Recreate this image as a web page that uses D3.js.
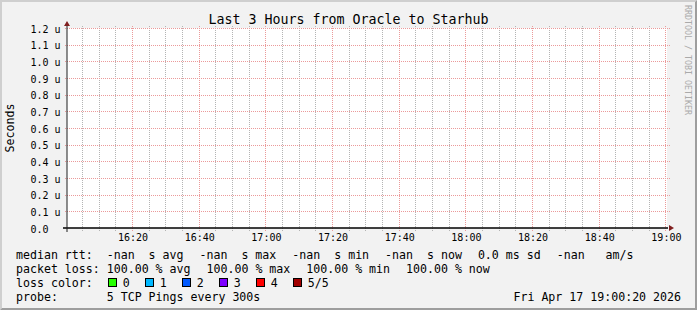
<!DOCTYPE html>
<html><head><meta charset="utf-8">
<script src="https://cdn.jsdelivr.net/npm/d3@7"></script>
<style>
html,body{margin:0;padding:0;background:#f2f2f2;overflow:hidden}
svg{display:block}
text{font-family:"DejaVu Sans Mono",monospace;white-space:pre}
</style>
</head><body>
<svg id="chart" width="697" height="310"></svg>
<script>
// ---------------- data ----------------
const chartTitle = "Last 3 Hours from Oracle to Starhub";
const yAxisTitle = "Seconds";
const watermark = "RRDTOOL / TOBI OETIKER";
const timeStart = new Date(2026, 3, 17, 16, 0, 20);
const timeEnd = new Date(2026, 3, 17, 19, 0, 20);
const yMax = 1.2e-6;
const yTickValues = [0, 0.1e-6, 0.2e-6, 0.3e-6, 0.4e-6, 0.5e-6, 0.6e-6, 0.7e-6, 0.8e-6, 0.9e-6, 1.0e-6, 1.1e-6, 1.2e-6];
const yTickLabels = ["0.0", "0.1 u", "0.2 u", "0.3 u", "0.4 u", "0.5 u", "0.6 u", "0.7 u", "0.8 u", "0.9 u", "1.0 u", "1.1 u", "1.2 u"];
const xTickLabels = ["16:20", "16:40", "17:00", "17:20", "17:40", "18:00", "18:20", "18:40", "19:00"];
// samples (every 300 s): all pings lost, no median rtt
const sampleTimes = ["16:05","16:10","16:15","16:20","16:25","16:30","16:35","16:40","16:45","16:50","16:55","17:00",
  "17:05","17:10","17:15","17:20","17:25","17:30","17:35","17:40","17:45","17:50","17:55","18:00",
  "18:05","18:10","18:15","18:20","18:25","18:30","18:35","18:40","18:45","18:50","18:55","19:00"];
const medianRtt = [null,null,null,null,null,null,null,null,null,null,null,null,
  null,null,null,null,null,null,null,null,null,null,null,null,
  null,null,null,null,null,null,null,null,null,null,null,null];
const lossPings = [5,5,5,5,5,5,5,5,5,5,5,5,5,5,5,5,5,5,5,5,5,5,5,5,5,5,5,5,5,5,5,5,5,5,5,5];
const rttLegend = ["median rtt:  -nan  s avg", "-nan  s max", "-nan  s min", "-nan  s now", "0.0 ms sd", "-nan   am/s"];
const lossLegend = ["packet loss: 100.00 % avg", "100.00 % max", "100.00 % min", "100.00 % now"];
const lossColorTitle = "loss color:";
const lossColorLabels = ["0", "1", "2", "3", "4", "5/5"];
const lossColors = ["#26ff00", "#00b8ff", "#0059ff", "#7e00ff", "#ff0000", "#a10000"];
const probeText = "probe:       5 TCP Pings every 300s";
const dateText = "Fri Apr 17 19:00:20 2026";

// ---------------- layout ----------------
const W = 697, H = 310;
const X0 = 67, X1 = 667, Y0 = 228, Y1 = 28;
const svg = d3.select("#chart");

// background + 3d border
svg.append("rect").attr("width", W).attr("height", H).attr("fill", "#f2f2f2");
svg.append("path").attr("d", `M0,${H}L2,${H-2}L2,2L${W-2},2L${W},0L0,0Z`).attr("fill", "#cfcfcf");
svg.append("path").attr("d", `M2,${H-2}L${W-2},${H-2}L${W-2},2L${W},0L${W},${H}L0,${H}Z`).attr("fill", "#9e9e9e");

// canvas
svg.append("rect").attr("x", X0).attr("y", Y1).attr("width", X1 - X0).attr("height", Y0 - Y1).attr("fill", "#ffffff");

const x = d3.scaleTime().domain([timeStart, timeEnd]).range([X0, X1]);
const y = d3.scaleLinear().domain([0, yMax]).range([Y0, Y1]);

const gridCol = "#b4b4b4";
const mgridCol = "#eb9a9a";
const minorTimes = d3.timeMinute.every(5).range(timeStart, timeEnd);
const majorTimes = d3.timeMinute.every(20).range(timeStart, timeEnd);
const gGrid = svg.append("g").attr("shape-rendering", "crispEdges");

// dotted line helper: 1px dots with 1px gaps
function vDots(xx, ya, yb, color) {
  const xs = Math.floor(xx);
  const ys = d3.range(ya, yb, 2);
  gGrid.append("g").selectAll("rect").data(ys).join("rect")
    .attr("x", xs).attr("y", d => d).attr("width", 1).attr("height", 1).attr("fill", color);
}
function hDots(yy, xa, xb, color) {
  const ysn = Math.round(yy);
  const xs = d3.range(xa, xb, 2);
  gGrid.append("g").selectAll("rect").data(xs).join("rect")
    .attr("x", d => d).attr("y", ysn).attr("width", 1).attr("height", 1).attr("fill", color);
}
// minor vertical grid (5 min)
minorTimes.forEach(t => vDots(x(t), Y1 - 2, Y0 + 3, gridCol));
// horizontal major grid
yTickValues.slice(1).forEach(v => hDots(y(v), X0 - 2, X1 + 3, mgridCol));
// major vertical grid (20 min)
majorTimes.forEach(t => vDots(x(t), Y1 - 2, Y0 + 4, mgridCol));

// data line (median rtt) - undefined values are skipped
const parseHM = d3.timeParse("%H:%M");
const sampleDates = sampleTimes.map(s => { const p = parseHM(s); return new Date(2026, 3, 17, p.getHours(), p.getMinutes()); });
const lineGen = d3.line().defined((d, i) => medianRtt[i] != null).x((d, i) => x(sampleDates[i])).y((d, i) => y(medianRtt[i] || 0));
svg.append("path").attr("d", lineGen(medianRtt) || "").attr("fill", "none").attr("stroke", "#202020");

// axes
svg.append("line").attr("x1", X0 - 4).attr("x2", X1 + 1).attr("y1", Y0).attr("y2", Y0)
  .attr("stroke", "#000").attr("stroke-width", 1.6);
svg.append("line").attr("x1", X0).attr("x2", X0).attr("y1", Y0 + 4).attr("y2", Y1 - 4)
  .attr("stroke", "#1f1f1f").attr("stroke-width", 1);
// arrows
svg.append("path").attr("d", `M${X1+2},${Y0-3}L${X1+2},${Y0+3}L${X1+7},${Y0}Z`).attr("fill", "#801f1f");
svg.append("path").attr("d", `M${X0-3},${Y1-2}L${X0+3},${Y1-2}L${X0},${Y1-7}Z`).attr("fill", "#801f1f");

// x axis labels via d3 axis
const xAxis = d3.axisBottom(x).tickValues(majorTimes).tickFormat((d, i) => xTickLabels[i]).tickSize(0).tickPadding(0);
const gx = svg.append("g").attr("transform", `translate(0,${Y0})`).call(xAxis);
gx.select(".domain").remove();
gx.selectAll("text").attr("dy", null).attr("y", 12.5).attr("font-family", "DejaVu Sans Mono").attr("font-size", 10).attr("fill", "#000");

// y axis labels
const yAxis = d3.axisLeft(y).tickValues(yTickValues).tickFormat((d, i) => yTickLabels[i]).tickSize(0).tickPadding(0);
const gy = svg.append("g").attr("transform", `translate(${X0},0)`).call(yAxis);
gy.select(".domain").remove();
gy.selectAll("text").attr("dy", null).attr("x", 30.5 - X0).attr("text-anchor", "start")
  .attr("y", 4).attr("font-family", "DejaVu Sans Mono").attr("font-size", 10).attr("fill", "#000");

// title
svg.append("text").attr("x", W / 2).attr("y", 24.3).attr("text-anchor", "middle")
  .attr("font-size", 13.3).attr("fill", "#000").text(chartTitle);
// y axis title
svg.append("text").attr("transform", `translate(14.3,${(Y0 + Y1) / 2}) rotate(-90)`).attr("text-anchor", "middle")
  .attr("font-size", 11.6).attr("fill", "#000").text(yAxisTitle);
// watermark
svg.append("text").attr("transform", `translate(685,5) rotate(90)`).attr("text-anchor", "start")
  .attr("font-size", 8.3).attr("fill", "#aaaaaa").text(watermark);

// legend
const LF = 11.6, gap = 16, lx = 16;
const base = [258.8, 272.7, 286.6, 300.5];
function placeRow(items, yy) {
  let cx = lx;
  items.forEach(s => {
    const t = svg.append("text").attr("xml:space", "preserve").attr("x", cx).attr("y", yy)
      .attr("font-size", LF).attr("fill", "#000").text(s);
    cx += t.node().getComputedTextLength() + gap;
  });
}
placeRow(rttLegend, base[0]);
placeRow(lossLegend, base[1]);
// loss color row
{
  const t = svg.append("text").attr("x", lx).attr("y", base[2]).attr("font-size", LF).attr("fill", "#000").text(lossColorTitle);
  let cx = lx + t.node().getComputedTextLength() + 15;
  lossColorLabels.forEach((lab, i) => {
    svg.append("rect").attr("x", Math.round(cx) + 0.5).attr("y", base[2] - 8.1).attr("width", 8).attr("height", 8)
      .attr("fill", lossColors[i]).attr("stroke", "#000").attr("stroke-width", 1);
    const tt = svg.append("text").attr("x", cx + 15).attr("y", base[2]).attr("font-size", LF).attr("fill", "#000").text(lab);
    cx = cx + 15 + tt.node().getComputedTextLength() + 15;
  });
}
svg.append("text").attr("xml:space", "preserve").attr("x", lx).attr("y", base[3]).attr("font-size", LF).attr("fill", "#000").text(probeText);
svg.append("text").attr("x", 681).attr("y", base[3]).attr("text-anchor", "end").attr("font-size", LF).attr("fill", "#000").text(dateText);
</script>
</body></html>
